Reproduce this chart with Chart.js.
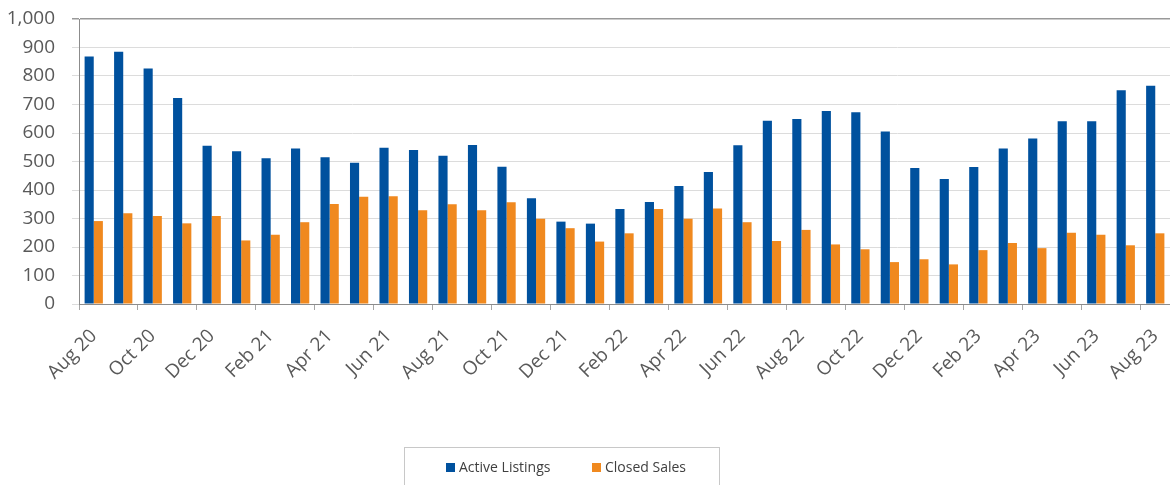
<!DOCTYPE html>
<html>
<head>
<meta charset="utf-8">
<script src="https://cdn.jsdelivr.net/npm/chart.js@4/dist/chart.umd.min.js"></script>
<style>
  html, body { margin: 0; padding: 0; background: #fff; overflow: hidden; }
  #wrap { position: relative; width: 1170px; height: 485px; }
  #legend {
    position: absolute; left: 404px; top: 447px; width: 316px; height: 60px;
    border: 1px solid #c8c8c8; box-sizing: border-box;
    font-family: "Open Sans", sans-serif; font-size: 14px; color: #404040;
  }
  #legend span.item { position: absolute; top: 9px; white-space: nowrap; }
  #legend i { display: inline-block; width: 9px; height: 9px; margin-right: 4px; vertical-align: 0px; }
</style>
</head>
<body>
<div id="wrap">
  <canvas id="chart" width="1170" height="485"></canvas>
  <div id="legend"></div>
</div>
<script>
// Data
const months = [
  'Aug 20', 'Sep 20', 'Oct 20', 'Nov 20', 'Dec 20',
  'Jan 21', 'Feb 21', 'Mar 21', 'Apr 21', 'May 21', 'Jun 21', 'Jul 21', 'Aug 21', 'Sep 21', 'Oct 21', 'Nov 21', 'Dec 21',
  'Jan 22', 'Feb 22', 'Mar 22', 'Apr 22', 'May 22', 'Jun 22', 'Jul 22', 'Aug 22', 'Sep 22', 'Oct 22', 'Nov 22', 'Dec 22',
  'Jan 23', 'Feb 23', 'Mar 23', 'Apr 23', 'May 23', 'Jun 23', 'Jul 23', 'Aug 23'
];
const activeListings = [
  868, 885, 826, 723, 555,
  536, 511, 546, 515, 496, 548, 540, 520, 558, 482, 371, 289,
  282, 333, 358, 414, 463, 557, 643, 649, 677, 673, 605, 477,
  439, 481, 546, 581, 641, 641, 750, 766
];
const closedSales = [
  291, 318, 309, 283, 309,
  223, 243, 287, 351, 376, 378, 329, 350, 329, 357, 299, 266,
  219, 248, 333, 299, 335, 287, 221, 260, 209, 192, 147, 157,
  139, 189, 214, 196, 250, 243, 206, 248
];
const seriesNames = ['Active Listings', 'Closed Sales'];
const seriesColors = ['#00519e', '#f0891f'];

const font = 'Open Sans';
const textColor = '#595959';

new Chart(document.getElementById('chart'), {
  type: 'bar',
  data: {
    labels: months,
    datasets: [
      { label: seriesNames[0], data: activeListings, backgroundColor: seriesColors[0] },
      { label: seriesNames[1], data: closedSales, backgroundColor: seriesColors[1] }
    ]
  },
  options: {
    responsive: false,
    animation: false,
    layout: { padding: { top: 19, right: 0, left: 0, bottom: 0 } },
    datasets: { bar: { categoryPercentage: 0.62, barPercentage: 1.0 } },
    plugins: { legend: { display: false }, tooltip: { enabled: false } },
    scales: {
      x: {
        grid: {
          offset: true,
          drawOnChartArea: false,
          tickLength: 6,
          color: ctx => (ctx.index % 2 === 0 ? '#a6a6a6' : 'rgba(0,0,0,0)')
        },
        border: { color: '#8c8c8c', width: 1 },
        ticks: {
          autoSkip: false,
          maxRotation: 45,
          minRotation: 45,
          padding: 15,
          color: textColor,
          font: { family: font, size: 19 },
          callback: function(value, index) {
            return index % 2 === 0 ? this.getLabelForValue(value) : '';
          }
        },
        afterFit: scale => {
          scale.height = 181;
          scale.paddingLeft = 0;
          scale.paddingRight = 0;
        }
      },
      y: {
        min: 0,
        max: 1000,
        ticks: {
          stepSize: 100,
          padding: 17,
          color: textColor,
          font: { family: font, size: 19 }
        },
        grid: {
          tickLength: 7,
          color: ctx => (ctx.tick && ctx.tick.value === 1000 ? '#999999' : '#dcdcdc'),
          lineWidth: ctx => (ctx.tick && ctx.tick.value === 1000 ? 1.5 : 1)
        },
        border: { color: '#8c8c8c', width: 1 },
        afterFit: scale => {
          scale.width = 79;
          scale.paddingTop = 0;
          scale.paddingBottom = 0;
        }
      }
    }
  }
});

// Legend
const legend = document.getElementById('legend');
const legendX = [41, 187];
seriesNames.forEach((name, i) => {
  const s = document.createElement('span');
  s.className = 'item';
  s.style.left = legendX[i] + 'px';
  s.innerHTML = '<i style="background:' + seriesColors[i] + '"></i>' + name;
  legend.appendChild(s);
});
</script>
</body>
</html>
